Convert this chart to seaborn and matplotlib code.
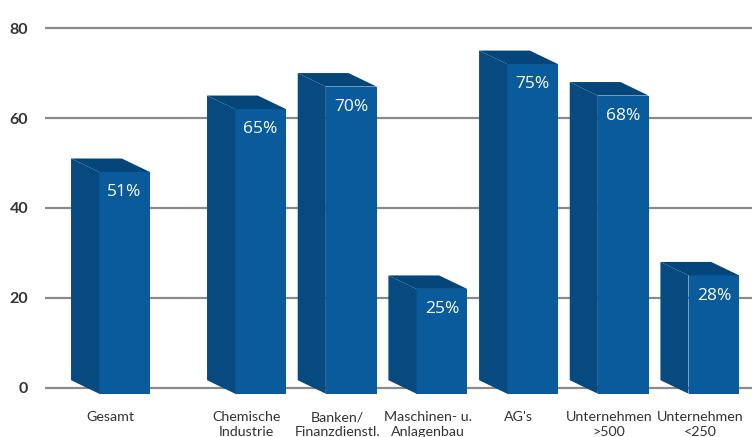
import numpy as np
import matplotlib.pyplot as plt
import seaborn as sns
from matplotlib.patches import Polygon

# data
categories = ["Gesamt", "Chemische\nIndustrie", "Banken/\nFinanzdienstl.",
              "Maschinen- u.\nAnlagenbau", "AG's", "Unternehmen\n>500", "Unternehmen\n<250"]
values = [51, 65, 70, 25, 75, 68, 28]
yticks = [0, 20, 40, 60, 80]

# layout: extra gap after "Gesamt", fake 3d depth
idx = np.arange(len(values))
pos = idx + np.where(idx > 0, 0.5, 0.0)
depth_x, depth_y, base = 0.31, 3.0, -1.3
front_col, side_col, top_col = "#0a5b9b", "#064a80", "#04457a"

sns.set_style("white")
plt.rcParams['font.family'] = ['Lato', 'DejaVu Sans']

fig = plt.figure(figsize=(7.52, 4.37), dpi=100)
ax = fig.add_axes([45 / 752, 37 / 437, 707 / 752, 380 / 437])

sns.barplot(x=pos, y=values, native_scale=True, orient="x", width=0.56,
            color=front_col, saturation=1, errorbar=None, ax=ax, zorder=3,
            linewidth=0)

# turn the flat bars into pseudo-3d blocks
for p, v in zip(ax.patches, values):
    x0, w = p.get_x(), p.get_width()
    top = v - depth_y
    p.set_y(base)
    p.set_height(top - base)
    side = Polygon([(x0, base), (x0, top), (x0 - depth_x, v), (x0 - depth_x, base + depth_y)],
                   closed=True, facecolor=side_col, edgecolor="none", zorder=3)
    lid = Polygon([(x0, top), (x0 + w, top), (x0 + w - depth_x, v), (x0 - depth_x, v)],
                  closed=True, facecolor=top_col, edgecolor="none", zorder=3)
    ax.add_patch(side)
    ax.add_patch(lid)
    ax.text(x0 + w / 2, v - 7.5, f"{v}%", color="white", ha="center", va="center",
            fontsize=12.5, family=["Open Sans", "DejaVu Sans"], zorder=4)

ax.set_xlim(-0.877, 6.92)
ax.set_ylim(-2.7, 81.8)
ax.set_yticks(yticks)
ax.set_xticks(pos - depth_x / 2, categories)
ax.yaxis.grid(True, color="#8a8a8a", linewidth=1.6)
ax.set_axisbelow(True)
for s in ax.spines.values():
    s.set_visible(False)
ax.tick_params(axis="x", length=0, pad=8, labelsize=10.3, labelcolor="#333333")
ax.tick_params(axis="y", length=0, pad=12, labelsize=11.5, labelcolor="#333333")
for t in ax.get_xticklabels():
    t.set_linespacing(1.3)
for t in ax.get_yticklabels():
    t.set_fontweight("bold")
ax.set_xlabel("")
ax.set_ylabel("")

fig.savefig("out.png", dpi=100)
